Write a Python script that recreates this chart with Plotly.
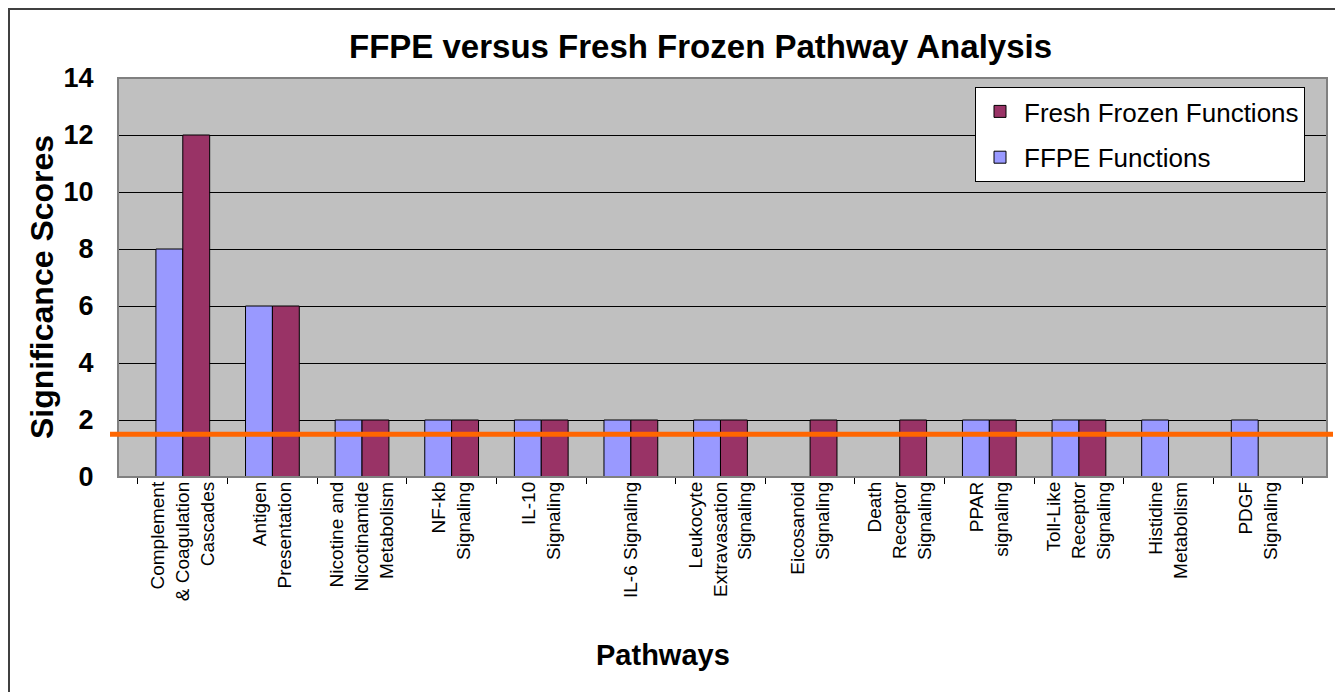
import plotly.graph_objects as go

categories = [
    "Complement<br>& Coagulation<br>Cascades",
    "Antigen<br>Presentation",
    "Nicotine and<br>Nicotinamide<br>Metabolism",
    "NF-kb<br>Signaling",
    "IL-10<br>Signaling",
    "IL-6 Signaling",
    "Leukocyte<br>Extravasation<br>Signaling",
    "Eicosanoid<br>Signaling",
    "Death<br>Receptor<br>Signaling",
    "PPAR<br>signaling",
    "Toll-Like<br>Receptor<br>Signaling",
    "Histidine<br>Metabolism",
    "PDGF<br>Signaling",
]
ffpe_values = [8, 6, 2, 2, 2, 2, 2, None, None, 2, 2, 2, 2]
fresh_frozen_values = [12, 6, 2, 2, 2, 2, 2, 2, 2, 2, 2, None, None]
threshold = 1.5
y_ticks = [0, 2, 4, 6, 8, 10, 12, 14]

FONT = "Arial, Liberation Sans, sans-serif"
OFF = 8  # default page body margin
W, H = 1343 - OFF, 692 - OFF
L, R, T, B = 118, 1327, 78, 477  # screen coordinates of the plot area
pw, ph = R - L, B - T


def px(x):
    return (x - L) / pw


def py(y):
    return (B - y) / ph


xpos = list(range(len(categories)))

fig = go.Figure()
fig.add_trace(go.Bar(
    x=xpos, y=ffpe_values, name="FFPE Functions",
    marker=dict(color="#9999FF", line=dict(color="black", width=1)),
    legendgroup="b", legendrank=2,
))
fig.add_trace(go.Bar(
    x=xpos, y=fresh_frozen_values, name="Fresh Frozen Functions",
    marker=dict(color="#993366", line=dict(color="black", width=1)),
    legendgroup="a", legendrank=1,
))

fig.update_layout(
    width=W, height=H,
    margin=dict(l=L - OFF, r=W - (R - OFF), t=T - OFF, b=H - (B - OFF), autoexpand=False),
    paper_bgcolor="white",
    plot_bgcolor="#C0C0C0",
    barmode="group", bargap=0.4, bargroupgap=0,
    font=dict(family=FONT, color="black"),
    showlegend=True,
    legend=dict(
        x=px(1305), y=py(87), xanchor="right", yanchor="top",
        bgcolor="white", bordercolor="black", borderwidth=1,
        font=dict(family=FONT, size=26, color="black"),
        traceorder="grouped", tracegroupgap=9, itemwidth=38,
    ),
    xaxis=dict(
        range=[-0.723, 12.768],
        tickmode="array", tickvals=xpos, ticktext=categories,
        tickangle=-90, ticks="", showgrid=False, zeroline=False,
        tickfont=dict(family=FONT, size=19, color="black"),
        minor=dict(tickmode="array", tickvals=[i - 0.5 for i in range(len(categories) + 1)],
                   ticks="outside", ticklen=6, tickcolor="black", tickwidth=1, showgrid=False),
        showline=False,
    ),
    yaxis=dict(
        range=[0, 14], tickmode="array", tickvals=y_ticks,
        showgrid=True, gridcolor="black", gridwidth=1, zeroline=False,
        tickfont=dict(family=FONT, size=27, color="black", weight="bold"),
        ticks="", ticklabelstandoff=18,
        showline=True, linecolor="black", linewidth=1,
    ),
    shapes=[
        dict(type="rect", xref="paper", yref="paper", x0=0, x1=1, y0=0, y1=1,
             line=dict(color="#808080", width=2), layer="above"),
        dict(type="line", xref="paper", yref="y", x0=px(110), x1=px(1333),
             y0=threshold, y1=threshold, line=dict(color="#FF6600", width=5), layer="above"),
        dict(type="rect", xref="paper", yref="paper", x0=px(OFF + 1), x1=px(1400),
             y0=py(800), y1=py(OFF + 1), line=dict(color="#404040", width=2), layer="below"),
    ],
    annotations=[
        dict(text="<b>FFPE versus Fresh Frozen Pathway Analysis</b>", xref="paper", yref="paper",
             x=px(700), y=py(47), xanchor="center", yanchor="middle", showarrow=False,
             font=dict(family=FONT, size=33, color="black")),
        dict(text="<b>Significance Scores</b>", xref="paper", yref="paper",
             x=px(42), y=py(287), xanchor="center", yanchor="middle", showarrow=False,
             textangle=-90, font=dict(family=FONT, size=32, color="black")),
        dict(text="<b>Pathways</b>", xref="paper", yref="paper",
             x=px(663), y=py(655), xanchor="center", yanchor="middle", showarrow=False,
             font=dict(family=FONT, size=29, color="black")),
    ],
)

fig.write_html("out.html")
